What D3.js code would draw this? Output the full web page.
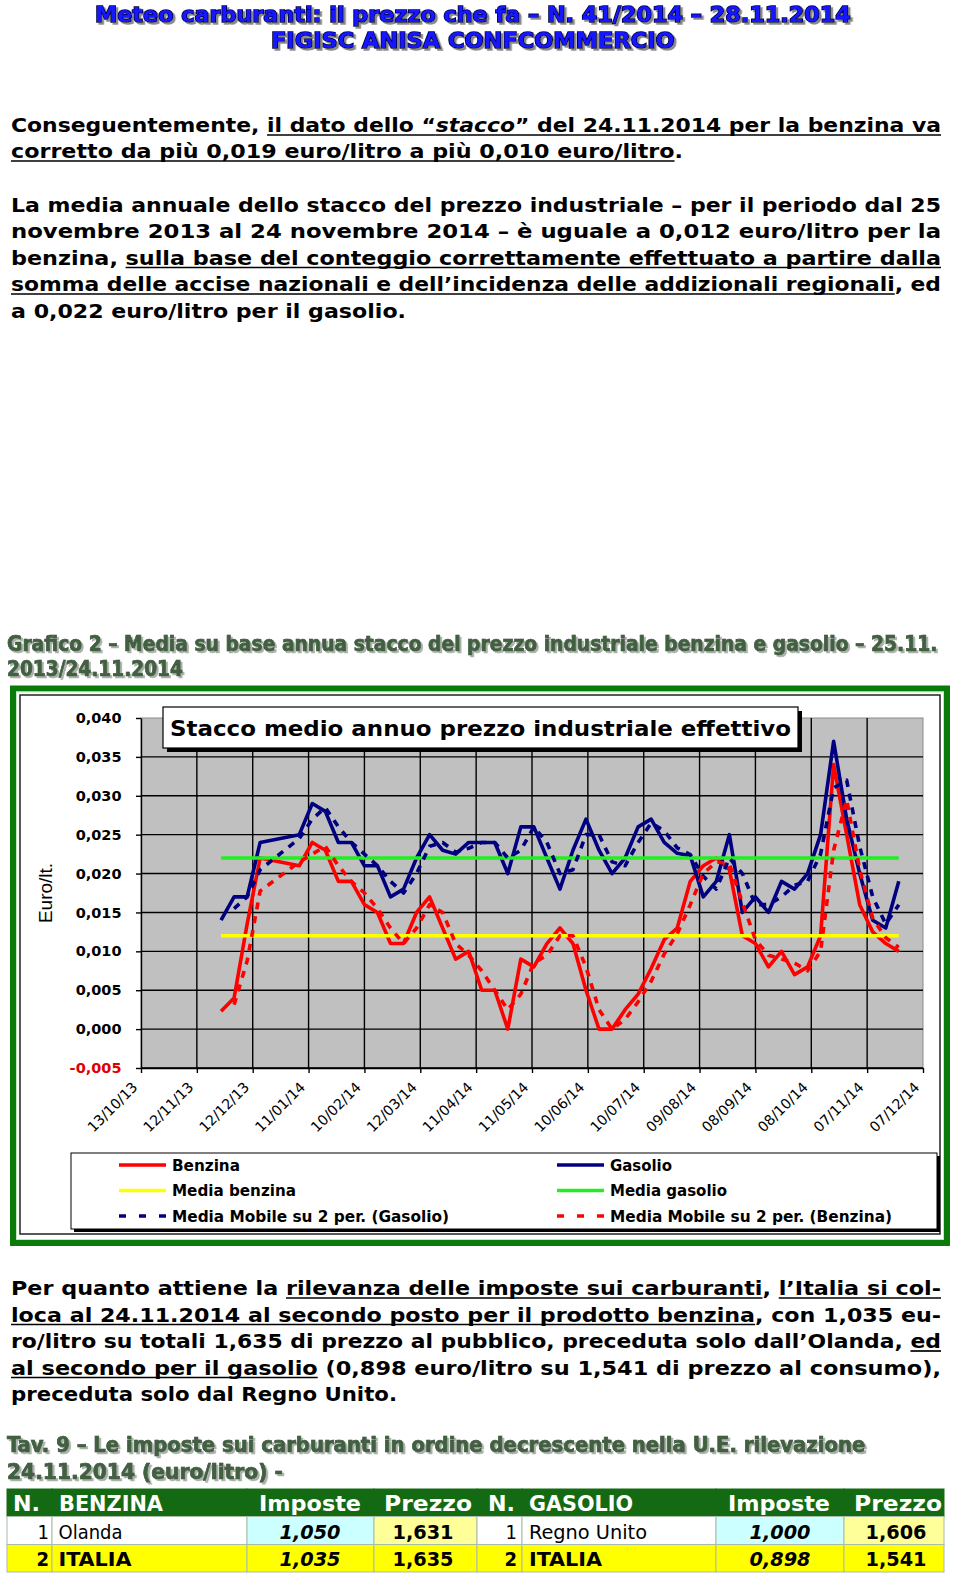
<!DOCTYPE html>
<html><head><meta charset="utf-8">
<script src="https://cdnjs.cloudflare.com/ajax/libs/d3/7.8.5/d3.min.js"></script>
<style>body{margin:0;background:#fff}svg{display:block}</style>
</head><body>
<svg id="page" width="960" height="1574"></svg>
<script>
// ---------------- DATA ----------------
const weekDates = ["25/11/13","02/12/13","09/12/13","16/12/13","23/12/13","30/12/13","06/01/14","13/01/14","20/01/14","27/01/14",
  "03/02/14","10/02/14","17/02/14","24/02/14","03/03/14","10/03/14","17/03/14","24/03/14","31/03/14","07/04/14",
  "14/04/14","21/04/14","28/04/14","05/05/14","12/05/14","19/05/14","26/05/14","02/06/14","09/06/14","16/06/14",
  "23/06/14","30/06/14","07/07/14","14/07/14","21/07/14","28/07/14","04/08/14","11/08/14","18/08/14","25/08/14",
  "01/09/14","08/09/14","15/09/14","22/09/14","29/09/14","06/10/14","13/10/14","20/10/14","27/10/14","03/11/14",
  "10/11/14","17/11/14","24/11/14"];
const benzina = [0.0023,0.004,0.0135,0.022,null,null,0.021,0.024,0.023,0.019,
  0.019,0.016,0.015,0.011,0.011,0.015,0.017,0.013,0.009,0.010,
  0.005,0.005,0.000,0.009,0.008,0.011,0.013,0.011,0.005,0.000,
  0.000,0.0025,0.0045,0.0078,0.0115,0.013,0.019,0.021,0.022,0.0205,
  0.012,0.011,0.008,0.010,0.007,0.008,0.012,0.034,0.025,0.016,
  0.0125,0.011,0.010];
const gasolio = [0.014,0.017,0.017,0.024,null,null,0.025,0.029,0.028,0.024,
  0.024,0.021,0.021,0.017,0.018,0.022,0.025,0.023,0.0225,0.024,
  0.024,0.024,0.020,0.026,0.026,0.022,0.018,0.023,0.027,0.023,
  0.020,0.022,0.026,0.027,0.024,0.0226,0.0223,0.017,0.019,0.025,
  0.015,0.017,0.015,0.019,0.018,0.020,0.025,0.037,0.027,0.020,
  0.014,0.013,0.019];
const mediaBenzina = 0.012;
const mediaGasolio = 0.022;
const xTickLabels = ["13/10/13","12/11/13","12/12/13","11/01/14","10/02/14","12/03/14","11/04/14","11/05/14",
  "10/06/14","10/07/14","09/08/14","08/09/14","08/10/14","07/11/14","07/12/14"];
const yTicks = [-0.005,0,0.005,0.010,0.015,0.020,0.025,0.030,0.035,0.040];
const legendLabels = ["Benzina","Gasolio","Media benzina","Media gasolio","Media Mobile su 2 per. (Gasolio)","Media Mobile su 2 per. (Benzina)"];
const tableHeader = ["N.","BENZINA","Imposte","Prezzo","N.","GASOLIO","Imposte","Prezzo"];
const tableRows = [["1","Olanda","1,050","1,631","1","Regno Unito","1,000","1,606"],
                   ["2","ITALIA","1,035","1,635","2","ITALIA","0,898","1,541"]];

// ---------------- HELPERS ----------------
const svg = d3.select("#page");
const defs = svg.append("defs");
function shadowFilter(id, color) {
  defs.append("filter").attr("id", id).attr("x", "-5%").attr("y", "-30%").attr("width", "110%").attr("height", "160%")
    .append("feDropShadow").attr("dx", 2).attr("dy", 2).attr("stdDeviation", 0)
    .attr("flood-color", color).attr("flood-opacity", 1);
}
shadowFilter("shHead", "#8a8a8a");
shadowFilter("shTitle", "#a9b2a9");

const SANS = "DejaVu Sans, Verdana, sans-serif";
const COND = "'DejaVu Sans Condensed', 'DejaVu Sans', sans-serif";
function addText(parent, str, x, y, o = {}) {
  const t = parent.append("text").attr("x", x).attr("y", y)
    .attr("font-family", o.family || SANS)
    .attr("font-size", o.size || 16)
    .attr("font-weight", o.weight || "normal")
    .attr("font-style", o.style || "normal")
    .attr("fill", o.fill || "#000")
    .attr("text-anchor", o.anchor || "start");
  if (o.stroke) t.attr("stroke", o.stroke).attr("stroke-width", o.sw || 1).attr("paint-order", "stroke");
  if (o.stretch) t.attr("font-stretch", o.stretch);
  if (o.width) t.attr("textLength", o.width).attr("lengthAdjust", "spacingAndGlyphs");
  t.text(str);
  return t;
}
// text scaled horizontally (via transform) to an exact width
function scaledText(parent, str, x, y, width, o = {}) {
  const t = addText(parent, str, 0, 0, Object.assign({}, o, {width: null}));
  const nat = t.node().getComputedTextLength();
  t.attr("transform", `translate(${x},${y}) scale(${width / nat},1)`);
  return t;
}
function richLine(parent, segs, x, y, width, size) {
  const t = parent.append("text").attr("x", x).attr("y", y)
    .attr("font-family", SANS).attr("font-size", size).attr("font-weight", "bold").attr("fill", "#000");
  segs.forEach(s => t.append("tspan").attr("font-style", s.i ? "italic" : "normal").text(s.t));
  t.attr("textLength", width).attr("lengthAdjust", "spacingAndGlyphs");
  const node = t.node();
  let idx = 0;
  segs.forEach(s => {
    if (s.u) {
      const a = node.getStartPositionOfChar(idx);
      const b = node.getEndPositionOfChar(idx + s.t.length - 1);
      parent.append("line").attr("x1", a.x).attr("x2", b.x).attr("y1", y + 3).attr("y2", y + 3)
        .attr("stroke", "#000").attr("stroke-width", 1.7);
    }
    idx += s.t.length;
  });
}
function shadowTitle(parent, str, x, y, width, o) {
  scaledText(parent, str, x, y, width, {family: COND, stretch: "condensed", size: o.size, weight: "bold",
    fill: o.fill, stroke: o.stroke, sw: o.sw}).attr("filter", `url(#${o.filter})`);
}

// ---------------- HEADER ----------------
const head = svg.append("g");
const headStyle = {size: 22, fill: "#1414ff", stroke: "#00003a", sw: 1.5, filter: "shHead"};
shadowTitle(head, "Meteo carburanti: il prezzo che fa – N. 41/2014 – 28.11.2014", 95, 22, 756, headStyle);
shadowTitle(head, "FIGISC ANISA CONFCOMMERCIO", 271, 48, 404, headStyle);

// ---------------- PARAGRAPHS ----------------
const para = svg.append("g");
const FS = 19, L = 11, FULL = 930;
richLine(para, [{t: "Conseguentemente, "}, {t: "il dato dello “", u: 1}, {t: "stacco", u: 1, i: 1}, {t: "” del 24.11.2014 per la benzina va", u: 1}], L, 132, FULL, FS);
richLine(para, [{t: "corretto da più 0,019 euro/litro a più 0,010 euro/litro", u: 1}, {t: "."}], L, 158, 672, FS);
richLine(para, [{t: "La media annuale dello stacco del prezzo industriale – per il periodo dal 25"}], L, 211.5, FULL, FS);
richLine(para, [{t: "novembre 2013 al 24 novembre 2014 – è uguale a 0,012 euro/litro per la"}], L, 238, FULL, FS);
richLine(para, [{t: "benzina, "}, {t: "sulla base del conteggio correttamente effettuato a partire dalla", u: 1}], L, 264.5, FULL, FS);
richLine(para, [{t: "somma delle accise nazionali e dell’incidenza delle addizionali regionali", u: 1}, {t: ", ed"}], L, 291, FULL, FS);
richLine(para, [{t: "a 0,022 euro/litro per il gasolio."}], L, 318, 395, FS);

richLine(para, [{t: "Per quanto attiene la "}, {t: "rilevanza delle imposte sui carburanti", u: 1}, {t: ", "}, {t: "l’Italia si col-", u: 1}], L, 1295, FULL, FS);
richLine(para, [{t: "loca al 24.11.2014 al secondo posto per il prodotto benzina", u: 1}, {t: ", con 1,035 eu-"}], L, 1321.5, FULL, FS);
richLine(para, [{t: "ro/litro su totali 1,635 di prezzo al pubblico, preceduta solo dall’Olanda, "}, {t: "ed", u: 1}], L, 1348, FULL, FS);
richLine(para, [{t: "al secondo per il gasolio", u: 1}, {t: " (0,898 euro/litro su 1,541 di prezzo al consumo),"}], L, 1374.5, FULL, FS);
richLine(para, [{t: "preceduta solo dal Regno Unito."}], L, 1401, 386, FS);

// ---------------- SECTION TITLES ----------------
const titleStyle = {size: 20.5, fill: "#3f613f", stroke: "#223322", sw: 0.6, filter: "shTitle"};
shadowTitle(svg, "Grafico 2 – Media su base annua stacco del prezzo industriale benzina e gasolio – 25.11.", 7, 651, 931, titleStyle);
shadowTitle(svg, "2013/24.11.2014", 7, 675.5, 176, titleStyle);
shadowTitle(svg, "Tav. 9 – Le imposte sui carburanti in ordine decrescente nella U.E. rilevazione", 7, 1452, 859, titleStyle);
shadowTitle(svg, "24.11.2014 (euro/litro) -", 7, 1479, 276, titleStyle);

// ---------------- CHART FRAME ----------------
const chart = svg.append("g");
chart.append("rect").attr("x", 13).attr("y", 688.5).attr("width", 934).attr("height", 554.5)
  .attr("fill", "#fff").attr("stroke", "#0a7a0a").attr("stroke-width", 6);
chart.append("rect").attr("x", 16.5).attr("y", 692).attr("width", 927).attr("height", 547.5)
  .attr("fill", "none").attr("stroke", "#bfe8bf").attr("stroke-width", 1);
chart.append("rect").attr("x", 20).attr("y", 695).attr("width", 920).attr("height", 539)
  .attr("fill", "#fff").attr("stroke", "#222").attr("stroke-width", 1.5);

// ---------------- SCALES ----------------
const parse = d3.timeParse("%d/%m/%y");
const tickDates = xTickLabels.map(parse);
const x = d3.scaleTime().domain([tickDates[0], tickDates[tickDates.length - 1]]).range([141, 923]);
const y = d3.scaleLinear().domain([-0.005, 0.040]).range([1068, 718]);
const PL = x.range()[0], PR = x.range()[1], PT = y.range()[1], PB = y.range()[0];

chart.append("rect").attr("x", PL).attr("y", PT).attr("width", PR - PL).attr("height", PB - PT)
  .attr("fill", "#c0c0c0").attr("stroke", "#8a8a8a").attr("stroke-width", 1);
chart.append("g").selectAll("line").data(yTicks.filter(t => t < 0.0399)).join("line")
  .attr("x1", PL).attr("x2", PR).attr("y1", d => y(d)).attr("y2", d => y(d))
  .attr("stroke", "#000").attr("stroke-width", 1.4);
chart.append("g").selectAll("line").data(tickDates.slice(1, -1)).join("line")
  .attr("x1", d => x(d)).attr("x2", d => x(d)).attr("y1", PT).attr("y2", PB)
  .attr("stroke", "#000").attr("stroke-width", 1.4);

// axes
const loc = d3.formatLocale({decimal: ",", thousands: ".", grouping: [3], currency: ["€", ""], minus: "-"});
const fmt = loc.format(".3f");
const yAxis = chart.append("g").attr("transform", `translate(${PL},0)`)
  .call(d3.axisLeft(y).tickValues(yTicks).tickFormat(fmt).tickSize(5).tickSizeOuter(0));
yAxis.select(".domain").attr("stroke", "#000").attr("stroke-width", 1.4);
yAxis.selectAll(".tick line").attr("stroke", "#000").attr("stroke-width", 1.4);
yAxis.selectAll(".tick text").attr("x", -19.5).attr("font-family", SANS).attr("font-size", 14.5)
  .attr("font-weight", "bold").attr("fill", d => d < 0 ? "#e00000" : "#000");

const xAxis = chart.append("g").attr("transform", `translate(0,${PB})`)
  .call(d3.axisBottom(x).tickValues(tickDates).tickFormat((d, i) => xTickLabels[i]).tickSize(5).tickSizeOuter(0));
xAxis.select(".domain").attr("stroke", "#000").attr("stroke-width", 1.4);
xAxis.selectAll(".tick line").attr("stroke", "#000").attr("stroke-width", 1.4);
xAxis.selectAll(".tick text").attr("x", 0).attr("y", 0).attr("dy", 0)
  .attr("transform", "translate(-3,20) rotate(-45)").style("text-anchor", "end")
  .attr("font-family", SANS).attr("font-size", 14.2).attr("fill", "#000");

addText(chart, "Euro/lt.", 0, 0, {family: "Liberation Sans, Arial, sans-serif", size: 19, anchor: "middle"})
  .attr("transform", "translate(52,893) rotate(-90)");

// ---------------- SERIES ----------------
const benPts = weekDates.map((d, i) => ({date: parse(d), v: benzina[i]})).filter(p => p.v !== null);
const gasPts = weekDates.map((d, i) => ({date: parse(d), v: gasolio[i]})).filter(p => p.v !== null);
const movingAvg = pts => pts.slice(1).map((p, k) => ({date: p.date, v: (pts[k].v + p.v) / 2}));
const line = d3.line().x(p => x(p.date)).y(p => y(p.v));
const first = parse(weekDates[0]), last = parse(weekDates[weekDates.length - 1]);

const series = chart.append("g");
function drawPath(data, color, w, dash) {
  series.append("path").datum(data).attr("d", line).attr("fill", "none").attr("stroke", color)
    .attr("stroke-width", w).attr("stroke-linejoin", "round").attr("stroke-dasharray", dash || null);
}
const C = {ben: "#ff0000", gas: "#000080", mben: "#ffff00", mgas: "#22ee22"};
drawPath(benPts, C.ben, 3.6);
drawPath(gasPts, C.gas, 3.6);
drawPath([{date: first, v: mediaBenzina}, {date: last, v: mediaBenzina}], C.mben, 3.6);
drawPath([{date: first, v: mediaGasolio}, {date: last, v: mediaGasolio}], C.mgas, 3.6);
drawPath(movingAvg(gasPts), C.gas, 3.6, "7,7");
drawPath(movingAvg(benPts), C.ben, 3.6, "7,7");

// ---------------- CHART TITLE BOX ----------------
chart.append("rect").attr("x", 167).attr("y", 711).attr("width", 635).attr("height", 41).attr("fill", "#000");
chart.append("rect").attr("x", 163).attr("y", 707).attr("width", 635).attr("height", 41)
  .attr("fill", "#fff").attr("stroke", "#000").attr("stroke-width", 1.2);
addText(chart, "Stacco medio annuo prezzo industriale effettivo", 170, 735.5, {size: 21.5, weight: "bold", width: 621});

// ---------------- LEGEND ----------------
const lg = chart.append("g");
lg.append("rect").attr("x", 74).attr("y", 1156).attr("width", 866).attr("height", 76).attr("fill", "#000");
lg.append("rect").attr("x", 71).attr("y", 1153).attr("width", 866).attr("height", 76)
  .attr("fill", "#fff").attr("stroke", "#000").attr("stroke-width", 1);
const legendItems = [
  {label: legendLabels[0], color: C.ben, col: 0, row: 0, w: 68},
  {label: legendLabels[1], color: C.gas, col: 1, row: 0, w: 62},
  {label: legendLabels[2], color: C.mben, col: 0, row: 1, w: 124},
  {label: legendLabels[3], color: C.mgas, col: 1, row: 1, w: 117},
  {label: legendLabels[4], color: C.gas, col: 0, row: 2, w: 277, dash: "7,13"},
  {label: legendLabels[5], color: C.ben, col: 1, row: 2, w: 282, dash: "7,13"}
];
const colX = [119, 557], rowY = [1165, 1190.5, 1216];
legendItems.forEach(it => {
  const x0 = colX[it.col], yy = rowY[it.row];
  lg.append("line").attr("x1", x0).attr("x2", x0 + 47).attr("y1", yy).attr("y2", yy)
    .attr("stroke", it.color).attr("stroke-width", 3.6).attr("stroke-dasharray", it.dash || null);
  addText(lg, it.label, x0 + 53, yy + 5.5, {family: COND, stretch: "condensed", size: 16, weight: "bold", width: it.w});
});

// ---------------- TABLE ----------------
const tb = svg.append("g");
const tCols = [7, 52, 247, 374, 477, 522, 716, 844, 944];
const tRows = [1489, 1516.5, 1544.5, 1572];
const cellFill = (r, c) => {
  if (r === 0) return "#136a13";
  if (r === 2) return "#ffff00";
  if (c === 2 || c === 6) return "#ccffff";
  if (c === 3 || c === 7) return "#ffff99";
  return "#ffffff";
};
for (let r = 0; r < 3; r++) for (let c = 0; c < 8; c++) {
  tb.append("rect").attr("x", tCols[c]).attr("y", tRows[r]).attr("width", tCols[c + 1] - tCols[c])
    .attr("height", tRows[r + 1] - tRows[r]).attr("fill", cellFill(r, c))
    .attr("stroke", r === 0 ? "#136a13" : "#a9bca9").attr("stroke-width", 1);
}
const hdrPos = [{x: 13, a: "start", w: 27}, {x: 59, a: "start", w: 104}, {x: 310, a: "middle", w: 102},
  {x: 428, a: "middle", w: 88}, {x: 488, a: "start", w: 27}, {x: 529, a: "start", w: 104},
  {x: 779, a: "middle", w: 102}, {x: 898, a: "middle", w: 88}];
tableHeader.forEach((h, c) => addText(tb, h, hdrPos[c].x, 1510.5,
  {family: COND, stretch: "condensed", size: 22, weight: "bold", fill: "#fff", anchor: hdrPos[c].a, width: hdrPos[c].w}));
const cellPos = [{x: 49, a: "end"}, {x: 58.5, a: "start"}, {x: 310, a: "middle"}, {x: 423, a: "middle"},
  {x: 517, a: "end"}, {x: 529, a: "start"}, {x: 780, a: "middle"}, {x: 896, a: "middle"}];
tableRows.forEach((row, r) => {
  const yy = r === 0 ? 1538.5 : 1566;
  row.forEach((v, c) => {
    const bold = r === 1 || c === 2 || c === 3 || c === 6 || c === 7;
    const ital = c === 2 || c === 6;
    let w = null;
    if (c === 2 || c === 3 || c === 6 || c === 7) w = 61;
    else if (c === 1 || c === 5) w = v === "Olanda" ? 64 : v === "Regno Unito" ? 118 : 73;
    addText(tb, v, cellPos[c].x, yy, {family: COND, stretch: "condensed", size: 20,
      weight: bold ? "bold" : "normal", style: ital ? "italic" : "normal", anchor: cellPos[c].a, width: w});
  });
});
</script>
</body></html>
